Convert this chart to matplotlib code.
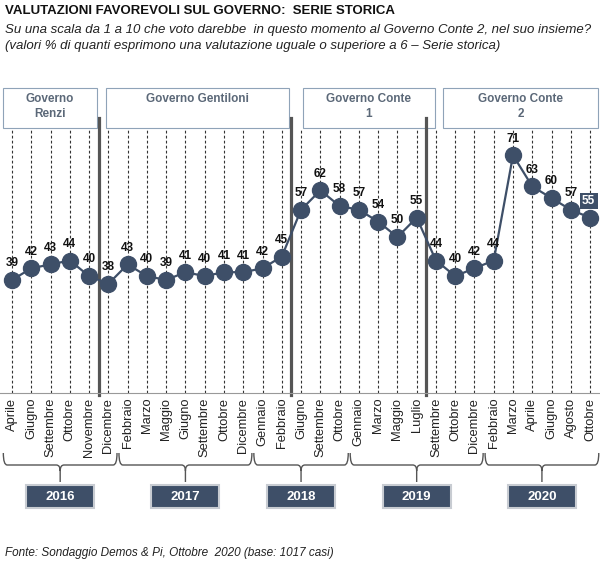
import matplotlib.pyplot as plt
from matplotlib.patches import Rectangle
from matplotlib.path import Path
from matplotlib.patches import PathPatch
from matplotlib.transforms import blended_transform_factory

plt.rcParams['font.family'] = ['Liberation Sans', 'DejaVu Sans']

months = ['Aprile', 'Giugno', 'Settembre', 'Ottobre', 'Novembre',
          'Dicembre', 'Febbraio', 'Marzo', 'Maggio', 'Giugno', 'Settembre',
          'Ottobre', 'Dicembre', 'Gennaio', 'Febbraio', 'Giugno', 'Settembre',
          'Ottobre', 'Gennaio', 'Marzo', 'Maggio', 'Luglio', 'Settembre',
          'Ottobre', 'Dicembre', 'Febbraio', 'Marzo', 'Aprile', 'Giugno',
          'Agosto', 'Ottobre']
values = [39, 42, 43, 44, 40, 38, 43, 40, 39, 41, 40, 41, 41, 42, 45,
          57, 62, 58, 57, 54, 50, 55, 44, 40, 42, 44, 71, 63, 60, 57, 55]

year_labels = ['2016', '2017', '2018', '2019', '2020']
year_counts = [6, 7, 5, 7, 6]

gov_names = ['Governo\nRenzi', 'Governo Gentiloni', 'Governo Conte\n1', 'Governo Conte\n2']
gov_breaks = [4.5, 14.5, 21.5]

navy = '#3e4f68'

fig = plt.figure(figsize=(6, 5.68), dpi=100)

# overlay in pixel coords (y from top)
bg = fig.add_axes([0, 0, 1, 1])
bg.set_xlim(0, 600)
bg.set_ylim(568, 0)
bg.axis('off')

# main plot area
ax = fig.add_axes([0, (568 - 393) / 568, 1, (393 - 128) / 568])
ax.patch.set_alpha(0)
step = 19.27
ax.set_xlim(-12 / step, (600 - 12) / step)
ax.set_ylim(10, 78)

x = list(range(len(values)))
for i in x:
    ax.axvline(i, color='#333333', lw=0.8, ls=(0, (2.5, 2)), zorder=1)

ax.plot(x, values, color=navy, lw=1.6, marker='o', markersize=11.5, zorder=3)

for i, v in enumerate(values):
    if i == len(values) - 1:
        ax.annotate(str(v), (i, v), xytext=(-1, 12), textcoords='offset points',
                    ha='center', va='center', fontsize=8.5, fontweight='bold',
                    color='white', zorder=4,
                    bbox=dict(boxstyle='square,pad=0.2', fc=navy, ec='none'))
    else:
        ax.annotate(str(v), (i, v), xytext=(0, 12), textcoords='offset points',
                    ha='center', va='center', fontsize=8.5, fontweight='bold',
                    color='#111111', zorder=4)

ax.set_xticks(x)
ax.set_xticklabels(months, rotation=90, fontsize=9.3, color='#222222')
ax.tick_params(axis='x', length=0, pad=3.5)
ax.set_yticks([])
for s in ['top', 'left', 'right']:
    ax.spines[s].set_visible(False)
ax.spines['bottom'].set_color('#999999')
ax.spines['bottom'].set_linewidth(0.8)

trans = blended_transform_factory(ax.transData, bg.transData)

# government separators
for b in gov_breaks:
    bg.plot([b, b], [118, 395], transform=trans, color='#555555', lw=2.3, zorder=5)

# government boxes
gov_boxes = [(3, 94), (106, 183), (303, 132), (443, 155)]
for (gx, gw), name in zip(gov_boxes, gov_names):
    bg.add_patch(Rectangle((gx, 88), gw, 40, fc='white', ec='#8fa3b8', lw=0.8))
    bg.text(gx + gw / 2, 93.5, name, ha='center', va='top', fontsize=8.5,
            fontweight='bold', color='#5b6878', linespacing=1.25)

# year braces and boxes
start = -0.5
for label, n in zip(year_labels, year_counts):
    a = start + 0.05
    b = start + n - 0.05
    c = (a + b) / 2
    r = 0.2
    verts = [(a, 453), (a, 465), (a + r, 465), (c - r, 465), (c, 465), (c, 471),
             (c, 482), (c, 471), (c, 465), (c + r, 465), (b - r, 465), (b, 465), (b, 453)]
    codes = [Path.MOVETO, Path.CURVE3, Path.CURVE3, Path.LINETO, Path.CURVE3, Path.CURVE3,
             Path.LINETO, Path.MOVETO, Path.CURVE3, Path.CURVE3, Path.LINETO, Path.CURVE3, Path.CURVE3]
    bg.add_patch(PathPatch(Path(verts, codes), fc='none', ec='#555555', lw=1.0,
                           transform=trans))
    w = 68 / step
    bg.add_patch(Rectangle((c - w / 2, 485), w, 23, fc=navy, ec='#c8ccd2', lw=1.5,
                           transform=trans))
    bg.text(c, 496.5, label, transform=trans, ha='center', va='center',
            fontsize=9.5, fontweight='bold', color='white')
    start += n

# titles
bg.text(5, 11, 'VALUTAZIONI FAVOREVOLI SUL GOVERNO:  SERIE STORICA', ha='left',
        va='center', fontsize=9.5, fontweight='bold', color='#111111')
bg.text(5, 30, 'Su una scala da 1 a 10 che voto darebbe  in questo momento al Governo Conte 2, nel suo insieme?',
        ha='left', va='center', fontsize=9.55, style='italic', color='#222222')
bg.text(5, 46, '(valori % di quanti esprimono una valutazione uguale o superiore a 6 \u2013 Serie storica)',
        ha='left', va='center', fontsize=9.55, style='italic', color='#222222')
bg.text(5, 553, 'Fonte: Sondaggio Demos & Pi, Ottobre  2020 (base: 1017 casi)',
        ha='left', va='center', fontsize=8.45, style='italic', color='#222222')

fig.savefig('out.png', dpi=100)
